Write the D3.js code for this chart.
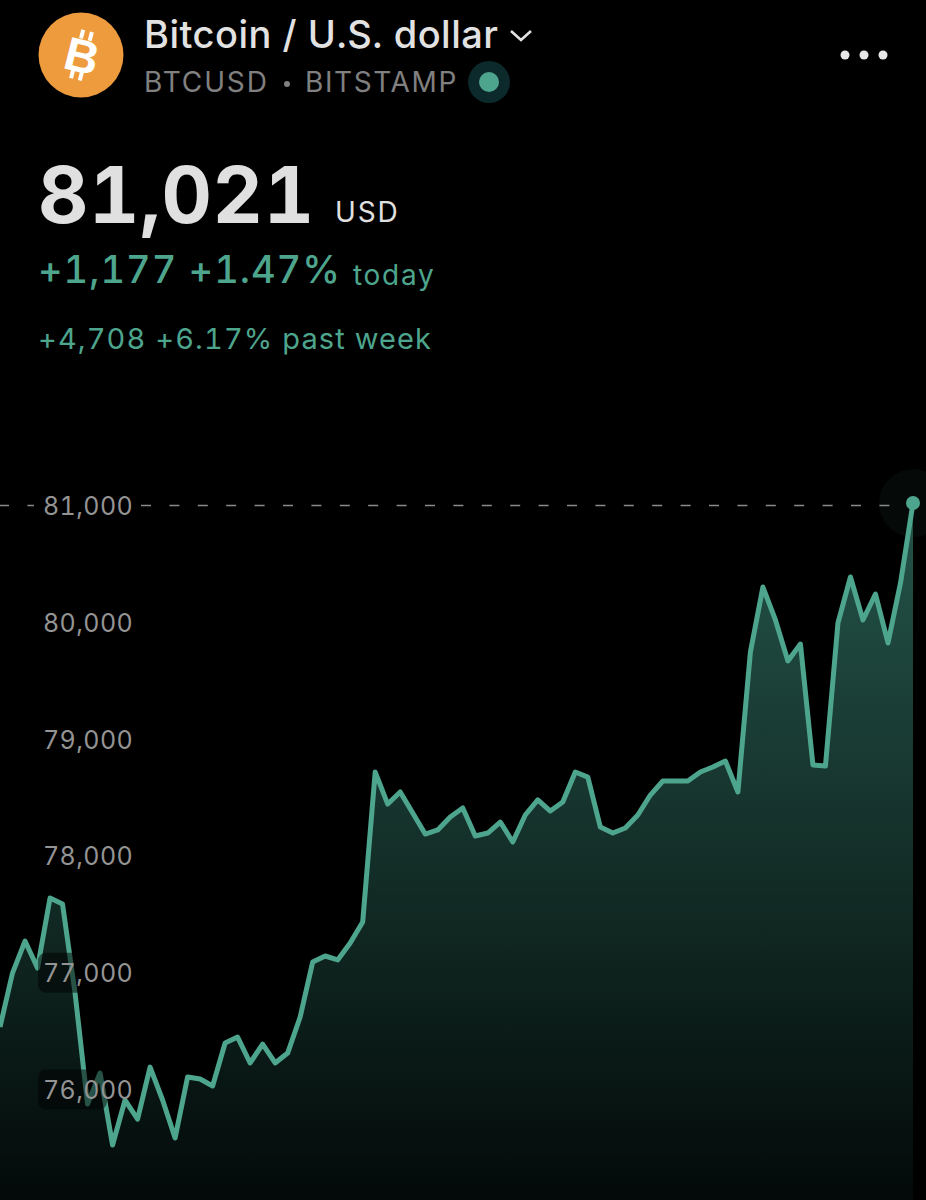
<!DOCTYPE html>
<html>
<head>
<meta charset="utf-8">
<script src="https://cdn.jsdelivr.net/npm/d3@7"></script>
<style>
html, body { margin: 0; background: #000; }
svg { display: block; }
text { font-family: Inter, Roboto, sans-serif; font-variant-numeric: tabular-nums; font-feature-settings: "tnum"; }
</style>
</head>
<body>
<div id="chart"></div>
<script>
var prices = [76535, 76997, 77271, 77040, 77639, 77588, 76826, 75876, 76141, 75525,
	75910, 75747, 76192, 75910, 75585, 76107, 76090, 76030, 76398, 76449,
	76227, 76389, 76227, 76312, 76621, 77091, 77143, 77109, 77254, 77434,
	78718, 78444, 78547, 78367, 78187, 78222, 78333, 78410, 78170, 78196,
	78290, 78119, 78350, 78479, 78384, 78461, 78718, 78675, 78247, 78196,
	78239, 78350, 78521, 78641, 78641, 78641, 78718, 78761, 78812, 78547,
	79746, 80302, 80020, 79669, 79814, 78778, 78770, 79994, 80388, 80020,
	80242, 79823, 80336, 81021];
var tickValues = [76000, 77000, 78000, 79000, 80000, 81000];
var boxedTicks = [76000, 77000];
var lastPrice = 81000;

var width = 926, height = 1200;
var green = "#4ea58d";

var x = d3.scaleLinear().domain([0, prices.length - 1]).range([0, 913]);
var y = d3.scaleLinear().domain([76000, 81000]).range([1089.5, 505.5]);

var svg = d3.select("#chart").append("svg")
		.attr("width", width).attr("height", height);

svg.append("rect").attr("width", width).attr("height", height).attr("fill", "#000");

// header
svg.append("circle").attr("cx", 81).attr("cy", 55).attr("r", 42.5).attr("fill", "#ee9b3e");

var coin = svg.append("g").attr("transform", "translate(81,55) rotate(14)");
[-6, 3].forEach(function(dx) {
	coin.append("rect").attr("x", dx).attr("y", -25).attr("width", 4).attr("height", 9).attr("fill", "#fff");
	coin.append("rect").attr("x", dx).attr("y", 16).attr("width", 4).attr("height", 9).attr("fill", "#fff");
});
coin.append("text").attr("text-anchor", "middle").attr("y", 17).attr("x", 1)
		.style("font-family", "'Liberation Sans'").style("font-weight", 700)
		.style("font-size", "47px").attr("fill", "#fff").text("B");

function label(txt, px, py, size, weight, color, spacing) {
	return svg.append("text").attr("x", px).attr("y", py)
			.style("font-size", size + "px").style("font-weight", weight)
			.style("letter-spacing", (spacing || 0) + "px")
			.attr("fill", color).text(txt);
}

label("Bitcoin / U.S. dollar", 144, 48, 38, 500, "#e2e2e2", 0.5);
svg.append("path").attr("d", "M511,31 L521,40 L531,31").attr("fill", "none")
		.attr("stroke", "#e2e2e2").attr("stroke-width", 2.6);
label("BTCUSD", 144, 92, 28, 400, "#808080", 1.9);
svg.append("circle").attr("cx", 287).attr("cy", 84).attr("r", 3).attr("fill", "#808080");
label("BITSTAMP", 305, 92, 28, 400, "#808080", 1.6);
svg.append("circle").attr("cx", 489).attr("cy", 82).attr("r", 21).attr("fill", "#0c2a2c");
svg.append("circle").attr("cx", 489).attr("cy", 82).attr("r", 10).attr("fill", green);

[845, 864, 883].forEach(function(cx) {
	svg.append("circle").attr("cx", cx).attr("cy", 55).attr("r", 4.5).attr("fill", "#e8e8e8");
});

label("81,021", 38, 223, 78, 700, "#e0e0e0", 0.6);
label("USD", 335, 222, 28, 400, "#e0e0e0", 1.8);
label("+1,177 +1.47%", 38, 283, 38, 500, green, 1);
label("today", 353, 285, 28, 400, green, 1.7);
label("+4,708 +6.17% past week", 38, 349, 29, 400, green, 1.1);

// chart
var defs = svg.append("defs");
var grad = defs.append("linearGradient").attr("id", "areaFill")
		.attr("gradientUnits", "userSpaceOnUse")
		.attr("x1", 0).attr("x2", 0).attr("y1", 505).attr("y2", 1200);
grad.append("stop").attr("offset", 0).attr("stop-color", "#245448");
grad.append("stop").attr("offset", 1).attr("stop-color", "#030a09");

var area = d3.area()
		.x(function(d, i) { return x(i); })
		.y0(height)
		.y1(function(d) { return y(d); });

var line = d3.line()
		.x(function(d, i) { return x(i); })
		.y(function(d) { return y(d); });

svg.append("circle").attr("cx", x(prices.length - 1)).attr("cy", y(81021))
		.attr("r", 34).attr("fill", "#050908");

svg.append("path").datum(prices).attr("d", area).attr("fill", "url(#areaFill)");

svg.append("line").attr("x1", -1).attr("x2", 900)
		.attr("y1", y(lastPrice)).attr("y2", y(lastPrice))
		.attr("stroke", "#8a8a8a").attr("stroke-width", 1.5)
		.attr("stroke-dasharray", "10 18.4");

svg.append("path").datum(prices).attr("d", line).attr("fill", "none")
		.attr("stroke", green).attr("stroke-width", 5).attr("stroke-linejoin", "round");

svg.append("circle").attr("cx", x(prices.length - 1)).attr("cy", y(81021))
		.attr("r", 7).attr("fill", green);

// translucent plates behind the labels that sit on the area
boxedTicks.forEach(function(t) {
	svg.append("rect").attr("x", 38).attr("y", y(t) - 20).attr("width", 69).attr("height", 40)
			.attr("rx", 8).attr("fill", "#000").attr("fill-opacity", 0.5);
});

svg.append("rect").attr("x", 34).attr("y", y(lastPrice) - 16).attr("width", 106).attr("height", 32).attr("fill", "#000");

var axis = d3.axisRight(y).tickValues(tickValues).tickSize(0).tickPadding(0)
		.tickFormat(d3.format(","));

var axisG = svg.append("g").attr("transform", "translate(43,1)").call(axis);
axisG.select(".domain").remove();
axisG.selectAll("text")
		.style("font-family", "Inter, Roboto, sans-serif")
		.style("font-size", "25px")
		.style("font-weight", 400)
		.style("letter-spacing", "0.4px")
		.attr("fill", "#949494");
</script>
</body>
</html>
